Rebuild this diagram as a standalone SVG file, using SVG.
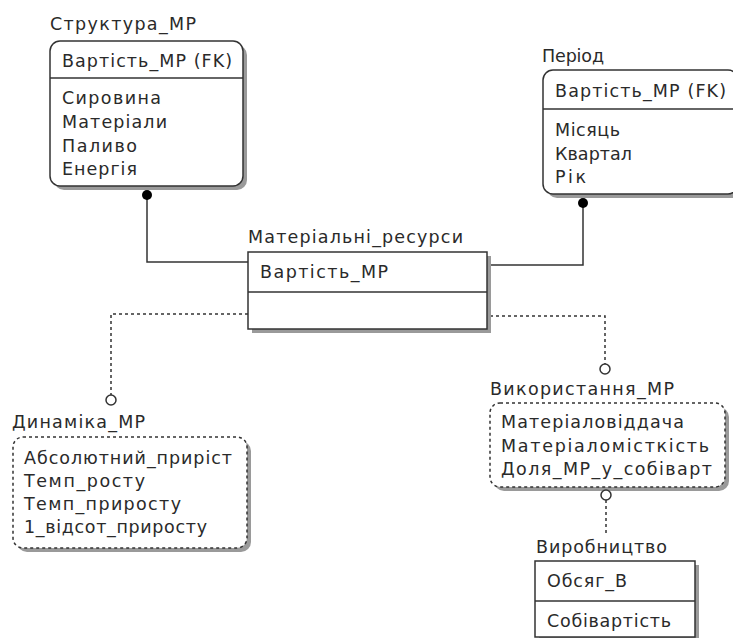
<svg xmlns="http://www.w3.org/2000/svg" width="733" height="638" viewBox="0 0 733 638">
<style>
text{font-family:"DejaVu Sans","Liberation Sans",sans-serif;font-size:17.5px;fill:#2a2a2a}
.box{fill:#fff;stroke:#333;stroke-width:1.5}
.dbox{fill:#fff;stroke:#333;stroke-width:1.5;stroke-dasharray:3 3}
.sh{fill:#9a9a9a}
.div{stroke:#333;stroke-width:1.5}
.ln{fill:none;stroke:#333;stroke-width:1.5}
.dl{fill:none;stroke:#333;stroke-width:1.5;stroke-dasharray:3 3}
.dot{fill:#000}
.oc{fill:#fff;stroke:#333;stroke-width:1.5}
</style>
<g id="connectors">
<polyline class="ln" points="147,195 147,262 248,262"/>
<polyline class="ln" points="583,203 583,265 490,265"/>
<polyline class="dl" points="248,314 111,314 111,395"/>
<polyline class="dl" points="490,316 605,316 605,364"/>
<polyline class="dl" points="606,500 606,535"/>
</g>
<g id="structura">
<text x="50" y="30" textLength="146" lengthAdjust="spacing">Структура_МР</text>
<rect class="sh" x="54" y="45" width="193" height="145" rx="10"/>
<rect class="box" x="50" y="41" width="193" height="145" rx="10"/>
<line class="div" x1="50" y1="78" x2="243" y2="78"/>
<text x="62" y="67" textLength="170" lengthAdjust="spacing">Вартість_МР (FK)</text>
<text x="62" y="104" textLength="99" lengthAdjust="spacing">Сировина</text>
<text x="62" y="128" textLength="105" lengthAdjust="spacing">Матеріали</text>
<text x="62" y="152" textLength="75" lengthAdjust="spacing">Паливо</text>
<text x="62" y="175" textLength="75" lengthAdjust="spacing">Енергія</text>
<circle class="dot" cx="147" cy="195" r="5"/>
</g>
<g id="period">
<text x="542" y="62" textLength="62" lengthAdjust="spacing">Період</text>
<rect class="sh" x="547" y="74" width="195" height="124" rx="10"/>
<rect class="box" x="543" y="70" width="195" height="124" rx="10"/>
<line class="div" x1="543" y1="109" x2="738" y2="109"/>
<text x="555" y="97" textLength="171" lengthAdjust="spacing">Вартість_МР (FK)</text>
<text x="555" y="136" textLength="65" lengthAdjust="spacing">Місяць</text>
<text x="555" y="160" textLength="77" lengthAdjust="spacing">Квартал</text>
<text x="555" y="183" textLength="31" lengthAdjust="spacing">Рік</text>
<circle class="dot" cx="583" cy="203" r="5"/>
</g>
<g id="materialni">
<text x="248" y="243" textLength="215" lengthAdjust="spacing">Матеріальні_ресурси</text>
<rect class="sh" x="252" y="256" width="239" height="77"/>
<rect class="box" x="248" y="252" width="239" height="77"/>
<line class="div" x1="248" y1="292" x2="487" y2="292"/>
<text x="260" y="278" textLength="128" lengthAdjust="spacing">Вартість_МР</text>
</g>
<g id="dynamika">
<circle class="oc" cx="111" cy="400" r="5"/>
<text x="12" y="428" textLength="133" lengthAdjust="spacing">Динаміка_МР</text>
<rect class="sh" x="17" y="441" width="234" height="111" rx="10"/>
<rect class="dbox" x="13" y="437" width="234" height="111" rx="10"/>
<text x="24" y="464" textLength="208" lengthAdjust="spacing">Абсолютний_приріст</text>
<text x="24" y="487" textLength="121" lengthAdjust="spacing">Темп_росту</text>
<text x="24" y="510" textLength="157" lengthAdjust="spacing">Темп_приросту</text>
<text x="24" y="533" textLength="183" lengthAdjust="spacing">1_відсот_приросту</text>
</g>
<g id="vykorystannia">
<circle class="oc" cx="605" cy="369" r="5"/>
<text x="490" y="395" textLength="184" lengthAdjust="spacing">Використання_МР</text>
<rect class="sh" x="494" y="407" width="235" height="84" rx="10"/>
<rect class="dbox" x="490" y="403" width="235" height="84" rx="10"/>
<text x="501" y="428" textLength="183" lengthAdjust="spacing">Матеріаловіддача</text>
<text x="501" y="452" textLength="208" lengthAdjust="spacing">Матеріаломісткість</text>
<text x="501" y="475" textLength="211" lengthAdjust="spacing">Доля_МР_у_собіварт</text>
</g>
<g id="vyrobnytstvo">
<circle class="oc" cx="606" cy="495" r="5"/>
<text x="536" y="553" textLength="131" lengthAdjust="spacing">Виробництво</text>
<rect class="sh" x="539" y="565" width="160" height="80"/>
<rect class="box" x="535" y="561" width="160" height="76"/>
<line class="div" x1="535" y1="601" x2="695" y2="601"/>
<text x="547" y="587" textLength="80" lengthAdjust="spacing">Обсяг_В</text>
<text x="547" y="627" textLength="124" lengthAdjust="spacing">Собівартість</text>
</g>
</svg>
